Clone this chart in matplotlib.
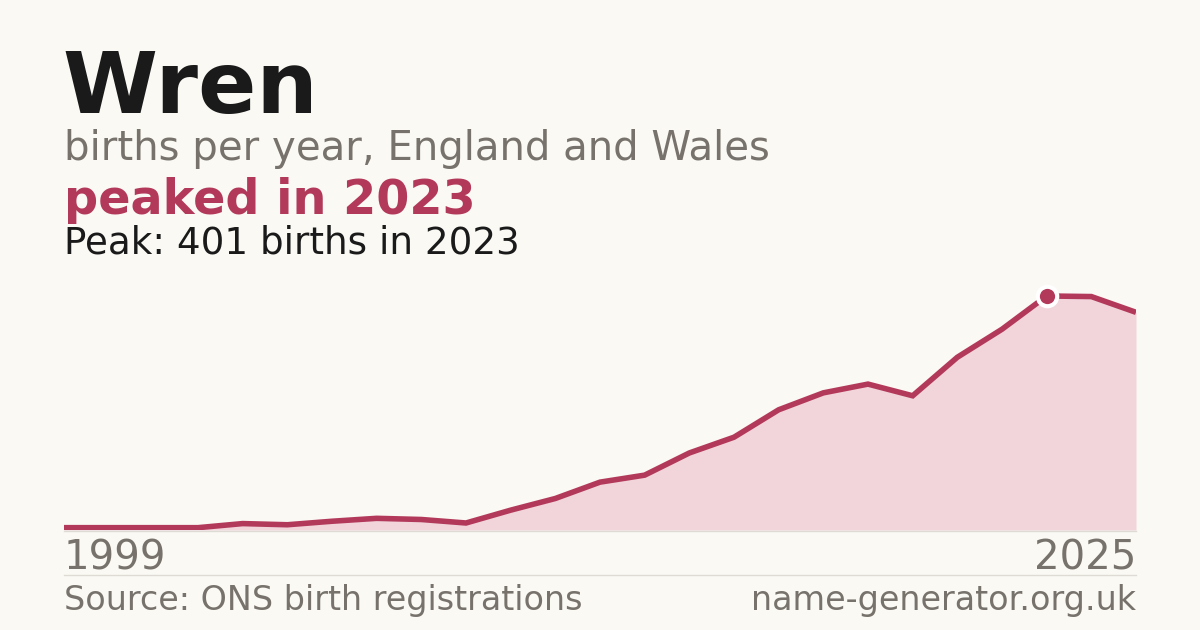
import numpy as np
from matplotlib import pyplot as plt
from matplotlib.lines import Line2D

# data
name = 'Wren'
years = [1999, 2001, 2003, 2004, 2005, 2006, 2007, 2008, 2009, 2010, 2011, 2012,
         2013, 2014, 2015, 2016, 2017, 2018, 2019, 2020, 2021, 2022, 2023, 2024, 2025]
births = [4, 4, 4, 4, 11, 9, 15, 20, 18, 12, 34, 54,
          82, 94, 132, 159, 206, 235, 250, 230, 296, 344, 401, 400, 373]
first_label = '1999'
last_label = '2025'

BG = '#faf9f4'
RED = '#b3395a'
FILL = '#f1d5db'
GREY = '#77726b'
INK = '#1a1a1a'
RULE = '#dedbd4'

W, H = 1200, 630
fig = plt.figure(figsize=(W/100, H/100), dpi=100, facecolor=BG)

def fx(px): return px / W
def fy(py): return 1 - py / H

ax = fig.add_axes([fx(64), fy(530), fx(1136) - fx(64), fy(279.6) - fy(530)])
ax.set_facecolor(BG)
x = np.arange(len(births))
ax.fill_between(x, births, 0, color=FILL, lw=0)
ax.plot(x, births, color=RED, lw=4, solid_joinstyle='miter', solid_capstyle='butt')
peak = int(np.argmax(births))
ax.plot([x[peak]], [births[peak]], 'o', ms=14, mfc=RED, mec='white', mew=3,
        clip_on=False, zorder=5)
ax.set_xlim(0, len(births) - 1)
ax.set_ylim(0, max(births) * 1.07)
ax.axis('off')

# rules
fig.add_artist(Line2D([fx(64), fx(1136)], [fy(530.5), fy(530.5)], color=RULE, lw=1))
fig.add_artist(Line2D([fx(64), fx(1136)], [fy(574.5), fy(574.5)], color=RULE, lw=1))

# header text
fig.text(fx(62), fy(113), name, fontsize=62, fontweight='bold', color=INK, va='baseline')
fig.text(fx(64), fy(160), 'births per year, England and Wales', fontsize=29,
         color=GREY, va='baseline')
fig.text(fx(64), fy(214), f'peaked in {years[peak]}', fontsize=34.4, fontweight='bold',
         color=RED, va='baseline')
fig.text(fx(64), fy(254), f'Peak: {births[peak]} births in {years[peak]}', fontsize=26.8,
         color=INK, va='baseline')

# footer
fig.text(fx(64), fy(569), first_label, fontsize=29, color=GREY, va='baseline')
fig.text(fx(1136), fy(569), last_label, fontsize=29, color=GREY, va='baseline', ha='right')
fig.text(fx(64), fy(610), 'Source: ONS birth registrations', fontsize=24, color=GREY,
         va='baseline')
fig.text(fx(1136), fy(610), 'name-generator.org.uk', fontsize=24, color=GREY,
         va='baseline', ha='right')

fig.savefig('out.png', dpi=100, facecolor=BG)
